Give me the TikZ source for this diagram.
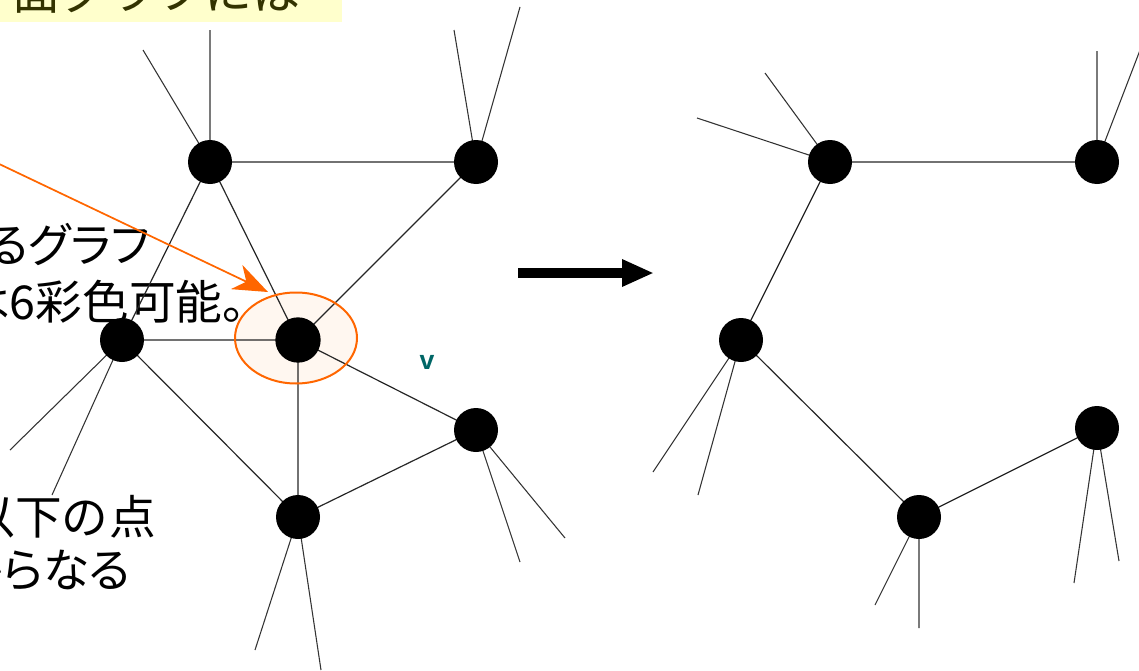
\documentclass[tikz,border=0pt]{standalone}
\usepackage{fontspec}
\newfontfamily\jpfont{Noto Sans CJK JP}
\newfontfamily\jppfont[RawFeature=+palt]{Noto Sans CJK JP}
\newfontfamily\lsans{Liberation Sans}
\usetikzlibrary{arrows.meta}
\definecolor{orng}{HTML}{FF6600}
\definecolor{ellfill}{HTML}{FFF7F0}
\definecolor{boxyellow}{HTML}{FFFFCC}
\definecolor{olive}{HTML}{333300}
\definecolor{teal}{HTML}{006666}
\tikzset{
  dot/.style={circle, fill=black, inner sep=0pt, minimum size=33pt},
  edge/.style={draw=black!85, line width=0.9pt},
  stub/.style={draw=black!80, line width=0.8pt},
  jptext/.style={font=\jppfont\fontsize{35pt}{40pt}\selectfont, inner sep=0pt, anchor=base east, text=black},
}
\begin{document}
\begin{tikzpicture}[x=0.75pt,y=-0.75pt]
\useasboundingbox (0,0) rectangle (1139,671);
\clip (0,0) rectangle (1139,671);
% top yellow box
\fill[boxyellow] (0,-60) rectangle (342,22);
\node[font=\jpfont\fontsize{36pt}{40pt}\selectfont, inner sep=0pt, anchor=base west, text=olive] (ttl) at (12,9) {面グラフには};
% left texts
\node[jptext] (t1) at (150,262) {るグラフ};
\node[jptext] (t2) at (246,319) {は6彩色可能。};
\node[jptext] (t3) at (156,534) {以下の\kern1.5pt点};
\node[jptext] (t4) at (131,587) {からなる};
% ellipse fill
\fill[ellfill] (296,338) ellipse [x radius=61, y radius=45.5];
% left graph coordinates
\coordinate (A) at (210,162);
\coordinate (B) at (476,162);
\coordinate (C) at (122,340);
\coordinate (V) at (298,340);
\coordinate (D) at (476,430);
\coordinate (E) at (298,517);
\coordinate (a1) at (210,30);
\coordinate (a2) at (143,50);
\coordinate (b1) at (454,30);
\coordinate (b2) at (520,7);
\coordinate (c1) at (10,450);
\coordinate (c2) at (52,495);
\coordinate (d1) at (520,562);
\coordinate (d2) at (565,538);
\coordinate (e1) at (255,650);
\coordinate (e2) at (321,670);
\draw[edge] (A) -- (B) (A) -- (C) (A) -- (V) (B) -- (V) (C) -- (V) (C) -- (E) (V) -- (E) (V) -- (D) (D) -- (E);
\draw[stub] (A) -- (a1) (A) -- (a2) (B) -- (b1) (B) -- (b2) (C) -- (c1) (C) -- (c2) (D) -- (d1) (D) -- (d2) (E) -- (e1) (E) -- (e2);
\node[dot] (nA) at (A) {};
\node[dot] (nB) at (B) {};
\node[dot] (nC) at (C) {};
\node[dot, minimum size=34pt] (nV) at (V) {};
\node[dot] (nD) at (D) {};
\node[dot] (nE) at (E) {};
% ellipse outline
\draw[orng, line width=1.5pt] (296,338) ellipse [x radius=61, y radius=45.5];
% orange pointer arrow
\coordinate (oa) at (-5,162);
\coordinate (ob) at (268,292);
\draw[orng, line width=1.3pt, -{Stealth[length=26pt,width=20pt,inset=8pt]}] (oa) -- (ob);
% v label
\node[font=\lsans\bfseries\fontsize{20pt}{24pt}\selectfont, text=teal, inner sep=0pt] (vl) at (427,362) {v};
% big arrow
\coordinate (ba) at (518,273);
\coordinate (bb) at (654,273);
\draw[line width=7.5pt, -{Triangle[length=24pt,width=19pt]}] (ba) -- (bb);
% right graph
\coordinate (P) at (830,162);
\coordinate (Q) at (1097,162);
\coordinate (R) at (741,340);
\coordinate (S) at (1097,428);
\coordinate (T) at (919,517);
\coordinate (p1) at (765,73);
\coordinate (p2) at (697,118);
\coordinate (q1) at (1097,51);
\coordinate (q2) at (1142,45);
\coordinate (r1) at (653,472);
\coordinate (r2) at (698,495);
\coordinate (s1) at (1074,583);
\coordinate (s2) at (1119,561);
\coordinate (u1) at (875,605);
\coordinate (u2) at (919,628);
\draw[edge] (P) -- (Q) (P) -- (R) (R) -- (T) (T) -- (S);
\draw[stub] (P) -- (p1) (P) -- (p2) (Q) -- (q1) (Q) -- (q2) (R) -- (r1) (R) -- (r2) (S) -- (s1) (S) -- (s2) (T) -- (u1) (T) -- (u2);
\node[dot] (nP) at (P) {};
\node[dot] (nQ) at (Q) {};
\node[dot] (nR) at (R) {};
\node[dot] (nS) at (S) {};
\node[dot] (nT) at (T) {};
\end{tikzpicture}
\end{document}
